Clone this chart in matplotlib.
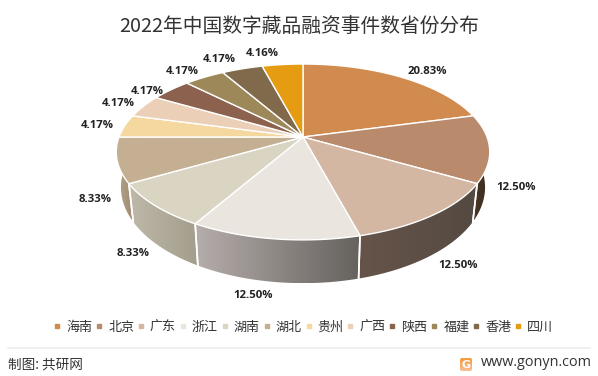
import numpy as np
import matplotlib
matplotlib.use('Agg')
import matplotlib.pyplot as plt
from matplotlib.lines import Line2D
from matplotlib.colors import to_rgb
from matplotlib.patches import Polygon, FancyBboxPatch

plt.rcParams['font.family'] = ['Noto Sans CJK SC', 'DejaVu Sans']

title = '2022年中国数字藏品融资事件数省份分布'
provinces = ['海南', '北京', '广东', '浙江', '湖南', '湖北', '贵州', '广西', '陕西', '福建', '香港', '四川']
shares = [20.83, 12.50, 12.50, 12.50, 8.33, 8.33, 4.17, 4.17, 4.17, 4.17, 4.17, 4.16]

top_colors = ['#D28B4F', '#B98A6C', '#D3B7A2', '#EBE5E0', '#D9D5C2', '#C4AF93',
              '#F5D7A0', '#EBCFB7', '#8C614D', '#9C8859', '#806A4B', '#E69C12']
# colour of the side wall at the left and right end of each slice
side_left = ['#7A4F2A', '#4A3626', '#66544A', '#B5ADAB', '#BDB8A8', '#B5A388',
             '#C4AF93', '#C4AF93', '#705040', '#807048', '#605038', '#B07C10']
side_right = ['#6A4525', '#3A2A1E', '#544A42', '#66625E', '#A39E8C', '#A08C72',
              '#C4AF93', '#C4AF93', '#705040', '#807048', '#605038', '#B07C10']

# label centres, pixels
label_pos = [(427, 72), (516, 187), (458, 266), (253, 295), (133, 253), (95, 200),
             (97, 125), (118, 104), (147, 91), (182, 71), (219, 59), (262, 54)]

# pie geometry in pixels (perspective disk)
cx, cy = 303, 137
R, A, k = 184, 85.4, 0.17
depth, base_sx, base_sy = 34, 0.975, 1.09


def top_edge(theta):
    u, v = np.sin(theta), np.cos(theta)
    d = 1 + k * v
    return cx + R * u / d, cy - A * v / d


def base_edge(theta):
    x, y = top_edge(theta)
    return cx + base_sx * (x - cx), cy + depth + base_sy * (y - cy)


fig = plt.figure(figsize=(5.98, 3.76), dpi=100, facecolor='white')
ax = fig.add_axes([0, 0, 1, 1])

edges = np.radians(np.cumsum([0] + shares) * 3.6)

# side walls, only the front half can be seen
for i in range(len(shares)):
    a0, a1 = max(edges[i], np.pi / 2), min(edges[i + 1], 1.5 * np.pi)
    if a1 <= a0:
        continue
    steps = np.linspace(a0, a1, 50)
    xt, yt = top_edge(steps)
    xb, yb = base_edge(steps)
    xs = np.r_[xt, xb[::-1]]
    ys = np.r_[yt, yb[::-1]]
    c_l, c_r = np.array(to_rgb(side_left[i])), np.array(to_rgb(side_right[i]))
    grad = np.linspace(c_l, c_r, 64)[np.newaxis, :, :]
    im = ax.imshow(grad, extent=(xs.min(), xs.max(), ys.max(), ys.min()), aspect='auto',
                   interpolation='bilinear', zorder=2)
    im.set_clip_path(Polygon(np.c_[xs, ys], transform=ax.transData))
    # white seam between walls
    for a in (a0, a1):
        if np.pi / 2 < a < 1.5 * np.pi:
            x0, y0 = top_edge(a)
            x1, y1 = base_edge(a)
            ax.plot([x0, x1], [y0, y1], color='white', lw=1.2, zorder=3)

# top faces
for i in range(len(shares)):
    steps = np.linspace(edges[i], edges[i + 1], 60)
    xt, yt = top_edge(steps)
    ax.fill(np.r_[cx, xt], np.r_[cy, yt], facecolor=top_colors[i], edgecolor='white',
            lw=1.0, joinstyle='round', zorder=4)

for (x, y), s in zip(label_pos, shares):
    ax.text(x, y, f'{s:.2f}%', ha='center', va='center', fontsize=8.2, fontweight='bold',
            family=['Open Sans'], color='#222222', zorder=5)

ax.text(299, 27, title, ha='center', va='center', fontsize=14.2, color='#333333')

handles = [Line2D([], [], marker='s', ls='none', ms=3.4, color=c) for c in top_colors]
ax.legend(handles, provinces, loc='center', bbox_to_anchor=(303.5, 327),
          bbox_transform=ax.transData, ncol=12, frameon=False, fontsize=9.4,
          labelcolor='#333333', handlelength=0.5, handletextpad=0.45,
          columnspacing=0.27, borderpad=0)

# footer
ax.plot([8, 590], [348, 348], color='#EEEEEE', lw=1.2)
ax.text(8, 365, '制图: 共研网', ha='left', va='center', fontsize=9.8, color='#333333')
ax.text(592, 363, 'www.gonyn.com', ha='right', va='center', fontsize=10.4,
        family=['Open Sans'], color='#333333')

# small site logo
badge = FancyBboxPatch((460, 358), 12, 13, boxstyle='round,pad=0,rounding_size=2',
                       fc='none', ec='none', transform=ax.transData)
ax.add_patch(badge)
logo = ax.imshow(np.linspace(to_rgb('#F59A3A'), to_rgb('#F7BE96'), 32)[:, np.newaxis, :],
                 extent=(460, 472, 371, 358), aspect='auto', zorder=2)
logo.set_clip_path(badge)
ax.text(466, 364.5, 'G', ha='center', va='center', fontsize=8, fontweight='bold',
        family=['DejaVu Sans'], color='white', zorder=3)

ax.set_xlim(0, 598)
ax.set_ylim(376, 0)
ax.axis('off')

fig.savefig('out.png', dpi=100, facecolor='white')
